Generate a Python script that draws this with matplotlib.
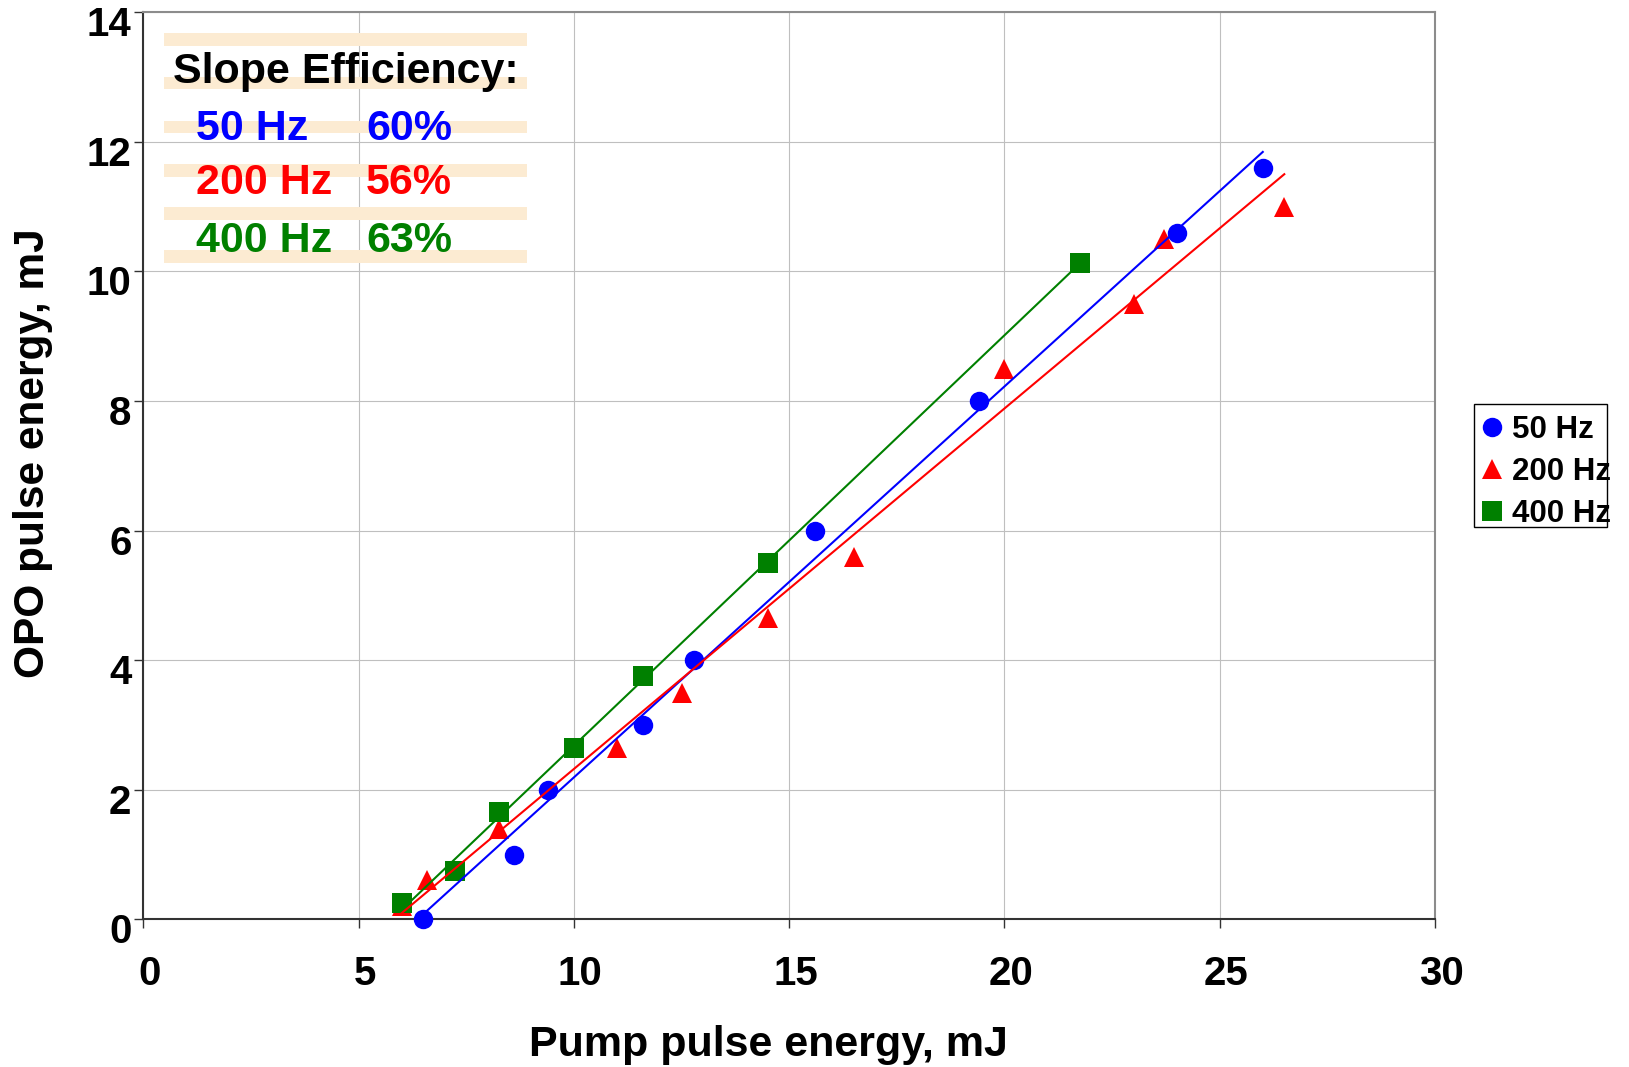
import numpy as np
import matplotlib
matplotlib.use("Agg")
import matplotlib.pyplot as plt
from matplotlib.transforms import ScaledTranslation
from matplotlib.patches import Rectangle

plt.rcParams['font.family'] = ['Liberation Sans', 'DejaVu Sans']
plt.rcParams['font.weight'] = 'bold'

# ---- data ----
x_50 = [6.5, 8.6, 9.4, 11.6, 12.8, 15.6, 19.4, 24.0, 26.0]
y_50 = [0.0, 1.0, 2.0, 3.0, 4.0, 6.0, 8.0, 10.6, 11.6]

x_200 = [6.0, 6.6, 8.25, 11.0, 12.5, 14.5, 16.5, 20.0, 23.0, 23.7, 26.5]
y_200 = [0.2, 0.6, 1.4, 2.65, 3.5, 4.65, 5.6, 8.5, 9.5, 10.5, 11.0]

x_400 = [6.0, 7.25, 8.25, 10.0, 11.6, 14.5, 21.75]
y_400 = [0.25, 0.75, 1.65, 2.65, 3.75, 5.5, 10.13]

series_labels = ["50 Hz", "200 Hz", "400 Hz"]
slope_labels = ["60%", "56%", "63%"]
colors = ["#0000FF", "#FF0000", "#008000"]
markers = ["o", "^", "s"]

x_ticks = [0, 5, 10, 15, 20, 25, 30]
y_ticks = [0, 2, 4, 6, 8, 10, 12, 14]

W, H = 1629, 1067
fig = plt.figure(figsize=(W / 100, H / 100), dpi=100)
ax = fig.add_axes([143.3 / W, 1 - 919.3 / H, (1435 - 143.3) / W, (919.3 - 12.3) / H])

xs = [x_50, x_200, x_400]
ys = [y_50, y_200, y_400]
handles = []
for xv, yv, c, m, lab in zip(xs, ys, colors, markers, series_labels):
    h, = ax.plot(xv, yv, linestyle='none', marker=m, markersize=14,
                 color=c, markeredgewidth=0, label=lab, zorder=3, clip_on=False)
    handles.append(h)
for xv, yv, c in zip(xs, ys, colors):
    k, b = np.polyfit(xv, yv, 1)
    xf = np.array([min(xv), max(xv)])
    ax.plot(xf, k * xf + b, color=c, linewidth=1.5, zorder=4)

ax.set_xlim(0, 30)
ax.set_ylim(0, 14)
ax.set_xticks(x_ticks)
ax.set_yticks(y_ticks)
ax.grid(True, color='#BFBFBF', linewidth=0.8, zorder=0)
ax.set_axisbelow(True)
for s in ['left', 'bottom']:
    ax.spines[s].set_color('#333333')
    ax.spines[s].set_linewidth(1.5)
for s in ['top', 'right']:
    ax.spines[s].set_color('#8C8C8C')
    ax.spines[s].set_linewidth(1.5)
ax.tick_params(axis='both', direction='out', length=6.5, width=1.0, color='#333333',
               labelsize=29)
ax.tick_params(axis='x', pad=19)
ax.tick_params(axis='y', pad=2)
for lbl in ax.get_xticklabels():
    lbl.set_fontweight('bold')
    lbl.set_transform(lbl.get_transform() + ScaledTranslation(0.065, 0, fig.dpi_scale_trans))
for lbl in ax.get_yticklabels():
    lbl.set_fontweight('bold')
    lbl.set_transform(lbl.get_transform() + ScaledTranslation(0, -0.09, fig.dpi_scale_trans))

# axis labels
fig.text(768 / W, 1 - 1056 / H, "Pump pulse energy, mJ", fontsize=31, fontweight='bold',
         ha='center', va='baseline')
fig.text(13 / W, 1 - 453 / H, "OPO pulse energy, mJ", fontsize=30.5, fontweight='bold',
         rotation=90, ha='left', va='center')

# striped text box
for y0, y1 in [(33, 46), (77, 89), (121, 133), (164, 177), (207, 220), (250, 263)]:
    fig.patches.append(Rectangle((164 / W, 1 - y1 / H), (527 - 164) / W, (y1 - y0) / H,
                                 transform=fig.transFigure, facecolor='#FCEBD2',
                                 edgecolor='none', zorder=1))
fig.text(173 / W, 1 - 83 / H, "Slope Efficiency:", fontsize=31, fontweight='bold',
         color='black', ha='left', va='baseline', zorder=5)
for lab, sl, c, yb in zip(series_labels, slope_labels, colors, [140, 194, 252]):
    fig.text(196 / W, 1 - yb / H, lab, fontsize=31, fontweight='bold', color=c,
             ha='left', va='baseline', zorder=5)
    fig.text(366 / W, 1 - yb / H, sl, fontsize=31, fontweight='bold', color=c,
             ha='left', va='baseline', zorder=5)

# legend (frame drawn separately so text may overflow like the reference)
fig.patches.append(Rectangle((1474 / W, 1 - 527 / H), (1607 - 1474) / W, (527 - 404) / H,
                             transform=fig.transFigure, facecolor='white',
                             edgecolor='black', linewidth=1.0, zorder=1))
leg = fig.legend(handles=handles, labels=series_labels, loc='upper left',
                 bbox_to_anchor=(1479 / W, 1 - 415 / H), borderaxespad=0,
                 frameon=False, prop={'size': 22.5, 'weight': 'bold'}, borderpad=0.0,
                 handlelength=0.8, handletextpad=0.25, labelspacing=0.38,
                 markerscale=1.0)
leg.set_zorder(6)

fig.savefig("out.png", dpi=100)
